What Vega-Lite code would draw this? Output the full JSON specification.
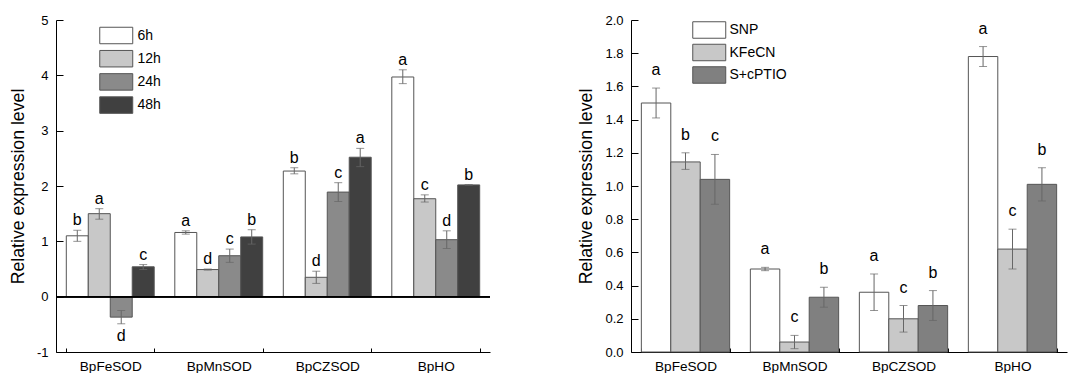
{
  "$schema": "https://vega.github.io/schema/vega-lite/v6.json",
  "padding": {"left": 9, "top": 14, "right": 9, "bottom": 0},
  "spacing": 86,
  "resolve": {
    "scale": {"fill": "independent", "xOffset": "independent", "x": "independent", "y": "independent"},
    "legend": {"fill": "independent"}
  },
  "datasets": {
    "left": [
      {"gene": "BpFeSOD", "time": "6h", "value": 1.10, "lo": 1.00, "hi": 1.20, "letter": "b"},
      {"gene": "BpFeSOD", "time": "12h", "value": 1.50, "lo": 1.40, "hi": 1.59, "letter": "a"},
      {"gene": "BpFeSOD", "time": "24h", "value": -0.37, "lo": -0.49, "hi": -0.25, "letter": "d"},
      {"gene": "BpFeSOD", "time": "48h", "value": 0.54, "lo": 0.49, "hi": 0.58, "letter": "c"},
      {"gene": "BpMnSOD", "time": "6h", "value": 1.16, "lo": 1.13, "hi": 1.19, "letter": "a"},
      {"gene": "BpMnSOD", "time": "12h", "value": 0.49, "lo": 0.48, "hi": 0.50, "letter": "d"},
      {"gene": "BpMnSOD", "time": "24h", "value": 0.74, "lo": 0.62, "hi": 0.86, "letter": "c"},
      {"gene": "BpMnSOD", "time": "48h", "value": 1.08, "lo": 0.95, "hi": 1.21, "letter": "b"},
      {"gene": "BpCZSOD", "time": "6h", "value": 2.27, "lo": 2.22, "hi": 2.33, "letter": "b"},
      {"gene": "BpCZSOD", "time": "12h", "value": 0.35, "lo": 0.24, "hi": 0.46, "letter": "d"},
      {"gene": "BpCZSOD", "time": "24h", "value": 1.89, "lo": 1.72, "hi": 2.06, "letter": "c"},
      {"gene": "BpCZSOD", "time": "48h", "value": 2.52, "lo": 2.35, "hi": 2.68, "letter": "a"},
      {"gene": "BpHO", "time": "6h", "value": 3.97, "lo": 3.85, "hi": 4.10, "letter": "a"},
      {"gene": "BpHO", "time": "12h", "value": 1.77, "lo": 1.71, "hi": 1.84, "letter": "c"},
      {"gene": "BpHO", "time": "24h", "value": 1.03, "lo": 0.87, "hi": 1.19, "letter": "d"},
      {"gene": "BpHO", "time": "48h", "value": 2.02, "lo": 2.015, "hi": 2.025, "letter": "b"}
    ],
    "right": [
      {"gene": "BpFeSOD", "treat": "SNP", "value": 1.50, "lo": 1.41, "hi": 1.59, "letter": "a"},
      {"gene": "BpFeSOD", "treat": "KFeCN", "value": 1.145, "lo": 1.10, "hi": 1.20, "letter": "b"},
      {"gene": "BpFeSOD", "treat": "S+cPTIO", "value": 1.04, "lo": 0.89, "hi": 1.19, "letter": "c"},
      {"gene": "BpMnSOD", "treat": "SNP", "value": 0.50, "lo": 0.49, "hi": 0.51, "letter": "a"},
      {"gene": "BpMnSOD", "treat": "KFeCN", "value": 0.06, "lo": 0.02, "hi": 0.10, "letter": "c"},
      {"gene": "BpMnSOD", "treat": "S+cPTIO", "value": 0.33, "lo": 0.27, "hi": 0.39, "letter": "b"},
      {"gene": "BpCZSOD", "treat": "SNP", "value": 0.36, "lo": 0.25, "hi": 0.47, "letter": "a"},
      {"gene": "BpCZSOD", "treat": "KFeCN", "value": 0.20, "lo": 0.12, "hi": 0.28, "letter": "c"},
      {"gene": "BpCZSOD", "treat": "S+cPTIO", "value": 0.28, "lo": 0.19, "hi": 0.37, "letter": "b"},
      {"gene": "BpHO", "treat": "SNP", "value": 1.78, "lo": 1.72, "hi": 1.84, "letter": "a"},
      {"gene": "BpHO", "treat": "KFeCN", "value": 0.62, "lo": 0.50, "hi": 0.74, "letter": "c"},
      {"gene": "BpHO", "treat": "S+cPTIO", "value": 1.01, "lo": 0.91, "hi": 1.11, "letter": "b"}
    ]
  },
  "config": {
    "view": {"stroke": null},
    "font": "Liberation Sans",
    "axis": {
      "domainColor": "#000", "domainWidth": 1, "tickColor": "#000", "tickWidth": 1,
      "labelColor": "#000", "titleColor": "#000", "labelOverlap": false,
      "labelFont": "Liberation Sans", "titleFont": "Liberation Sans",
      "titleFontWeight": "normal", "grid": false
    },
    "legend": {"labelFont": "Liberation Sans", "labelColor": "#000", "labelFontSize": 14, "padding": 0}
  },
  "hconcat": [
    {
      "width": 434,
      "height": 332,
      "data": {"name": "left"},
      "encoding": {
        "x": {"field": "gene", "type": "nominal", "sort": ["BpFeSOD", "BpMnSOD", "BpCZSOD", "BpHO"],
              "scale": {"domain": ["BpFeSOD", "BpMnSOD", "BpCZSOD", "BpHO"], "paddingInner": 0.19, "paddingOuter": 0.095},
              "axis": {"title": null, "labelAngle": 0, "labelFontSize": 13.6, "tickBand": "extent", "tickSize": -4, "labelPadding": 11}},
        "xOffset": {"field": "time", "type": "nominal", "scale": {"domain": ["6h", "12h", "24h", "48h"], "paddingInner": 0, "paddingOuter": 0}}
      },
      "layer": [
        {
          "mark": {"type": "bar", "stroke": "#555", "strokeWidth": 1},
          "encoding": {
            "y": {"field": "value", "type": "quantitative", "scale": {"domain": [-1, 5], "nice": false},
                  "axis": {"title": "Relative expression level", "values": [-1, 0, 1, 2, 3, 4, 5], "labelExpr": "'' + datum.value",
                           "labelOverlap": false, "tickSize": -7, "labelPadding": 15, "labelFontSize": 13, "titleFontSize": 17.7, "titlePadding": 9}},
            "fill": {"field": "time", "type": "nominal",
                     "scale": {"domain": ["6h", "12h", "24h", "48h"], "range": ["#ffffff", "#c8c8c8", "#8a8a8a", "#404040"]},
                     "legend": {"title": null, "orient": "none", "legendX": 51.25, "legendY": 6.5,
                                "symbolType": "M-2,-1H2V1H-2Z", "symbolSize": 272, "symbolStrokeColor": "#555", "symbolStrokeWidth": 1,
                                "labelOffset": 12.25, "rowPadding": 1.2, "symbolOpacity": 1}}
          }
        },
        {
          "mark": {"type": "rule", "color": "#666", "strokeWidth": 1},
          "encoding": {
            "y": {"field": "lo", "type": "quantitative"},
            "y2": {"field": "hi"}
          }
        },
        {
          "mark": {"type": "tick", "color": "#666", "thickness": 1, "size": 8, "orient": "horizontal"},
          "encoding": {"y": {"field": "lo", "type": "quantitative"}}
        },
        {
          "mark": {"type": "tick", "color": "#666", "thickness": 1, "size": 8, "orient": "horizontal"},
          "encoding": {"y": {"field": "hi", "type": "quantitative"}}
        },
        {
          "transform": [{"filter": "datum.value >= 0"}],
          "mark": {"type": "text", "fontSize": 16, "color": "#000", "baseline": "middle", "dy": -10},
          "encoding": {
            "y": {"field": "hi", "type": "quantitative"},
            "text": {"field": "letter"}
          }
        },
        {
          "transform": [{"filter": "datum.value < 0"}],
          "mark": {"type": "text", "fontSize": 16, "color": "#000", "baseline": "middle", "dy": 12},
          "encoding": {
            "y": {"field": "lo", "type": "quantitative"},
            "text": {"field": "letter"}
          }
        },
        {
          "mark": {"type": "rule", "color": "#000", "strokeWidth": 1},
          "encoding": {"x": null, "xOffset": null, "y": {"datum": 0}}
        }
      ]
    },
    {
      "width": 436,
      "height": 332,
      "data": {"name": "right"},
      "encoding": {
        "x": {"field": "gene", "type": "nominal", "sort": ["BpFeSOD", "BpMnSOD", "BpCZSOD", "BpHO"],
              "scale": {"domain": ["BpFeSOD", "BpMnSOD", "BpCZSOD", "BpHO"], "paddingInner": 0.19, "paddingOuter": 0.095},
              "axis": {"title": null, "labelAngle": 0, "labelFontSize": 13.6, "tickBand": "extent", "tickSize": -4, "labelPadding": 11}},
        "xOffset": {"field": "treat", "type": "nominal", "scale": {"domain": ["SNP", "KFeCN", "S+cPTIO"], "paddingInner": 0, "paddingOuter": 0}}
      },
      "layer": [
        {
          "mark": {"type": "bar", "stroke": "#555", "strokeWidth": 1},
          "encoding": {
            "y": {"field": "value", "type": "quantitative", "scale": {"domain": [0, 2], "nice": false},
                  "axis": {"title": "Relative expression level", "tickCount": 10, "format": ".1f",
                           "labelOverlap": false, "tickSize": -7, "labelPadding": 15, "labelFontSize": 13, "titleFontSize": 17.7, "titlePadding": 9}},
            "fill": {"field": "treat", "type": "nominal",
                     "scale": {"domain": ["SNP", "KFeCN", "S+cPTIO"], "range": ["#ffffff", "#c8c8c8", "#808080"]},
                     "legend": {"title": null, "orient": "none", "legendX": 69.25, "legendY": 1,
                                "symbolType": "M-2,-1H2V1H-2Z", "symbolSize": 272, "symbolStrokeColor": "#555", "symbolStrokeWidth": 1,
                                "labelOffset": 11.25, "rowPadding": 0.5, "symbolOpacity": 1}}
          }
        },
        {
          "mark": {"type": "rule", "color": "#666", "strokeWidth": 1},
          "encoding": {
            "y": {"field": "lo", "type": "quantitative"},
            "y2": {"field": "hi"}
          }
        },
        {
          "mark": {"type": "tick", "color": "#666", "thickness": 1, "size": 8, "orient": "horizontal"},
          "encoding": {"y": {"field": "lo", "type": "quantitative"}}
        },
        {
          "mark": {"type": "tick", "color": "#666", "thickness": 1, "size": 8, "orient": "horizontal"},
          "encoding": {"y": {"field": "hi", "type": "quantitative"}}
        },
        {
          "mark": {"type": "text", "fontSize": 16, "color": "#000", "baseline": "middle", "dy": -18},
          "encoding": {
            "y": {"field": "hi", "type": "quantitative"},
            "text": {"field": "letter"}
          }
        }
      ]
    }
  ]
}
